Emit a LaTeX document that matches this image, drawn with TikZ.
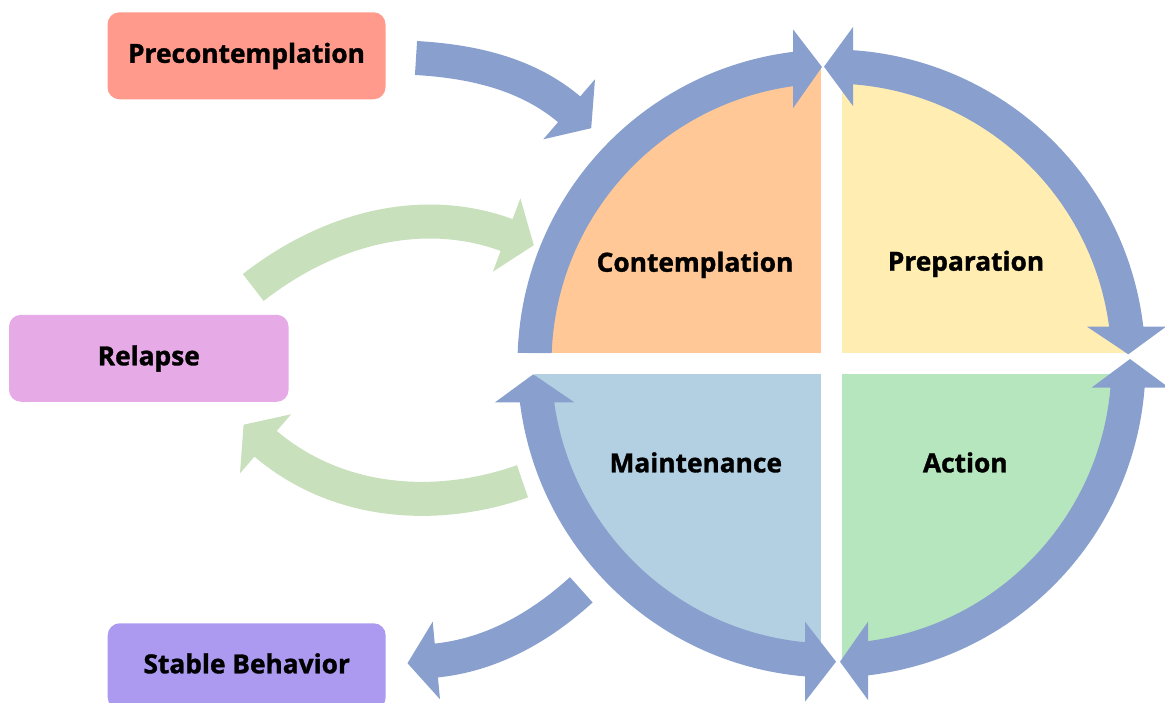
\documentclass[tikz,border=0pt]{standalone}
\usepackage{fontspec}
\setmainfont{Open Sans}[BoldFeatures={FakeBold=1.2}]
\usetikzlibrary{calc}
\definecolor{ringblue}{HTML}{89A0CE}
\definecolor{loopgreen}{HTML}{C8E0BC}
\definecolor{contfill}{HTML}{FFC896}
\definecolor{prepfill}{HTML}{FFEDB2}
\definecolor{maintfill}{HTML}{B2D0E2}
\definecolor{actfill}{HTML}{B5E6BE}
\definecolor{precfill}{HTML}{FF9A8C}
\definecolor{relfill}{HTML}{E6AAE6}
\definecolor{stabfill}{HTML}{AB9AF0}
\begin{document}
\begin{tikzpicture}[x=1pt,y=-1pt,
  stagelabel/.style={font=\fontsize{26.3}{30}\selectfont\bfseries, text=black, inner sep=0pt},
  stagebox/.style={stagelabel, rounded corners=12pt, minimum width=278pt, minimum height=87pt,
                   text height=14pt, text depth=0pt, outer sep=0pt},
  shaft/.style={line width=34pt, line cap=butt},
]
\useasboundingbox (0,0) rectangle (1165,703);
\coordinate (c) at (831.5,363.5);

% four quadrants of the cycle
\fill[contfill]  (c) -- ++(180:297) arc[start angle=180,end angle=270,radius=297] -- cycle;
\fill[prepfill]  (c) -- ++(270:297) arc[start angle=270,end angle=360,radius=297] -- cycle;
\fill[actfill]   (c) -- ++(0:297)   arc[start angle=0,end angle=90,radius=297] -- cycle;
\fill[maintfill] (c) -- ++(90:297)  arc[start angle=90,end angle=180,radius=297] -- cycle;
% white cross between the quadrants
\fill[white] (821,55) rectangle (842,672);
\fill[white] (525,353) rectangle (1140,374);

% ring arrows around the cycle
\fill[ringblue] ($(c)+(181.92:314)$) arc[start angle=181.92,end angle=262.96,radius=314]
  -- (793,29.3) -- (822,67) -- (793,108.3) -- (793,86.2)
  arc[start angle=262.1,end angle=182.15,radius=280] -- cycle;
\fill[ringblue] (853,50.2) arc[start angle=273.93,end angle=353.27,radius=314]
  -- (1166,326.7) -- (1128.3,354.3) -- (1087,326.7) -- (1109.1,326.7)
  arc[start angle=352.45,end angle=274.4,radius=280]
  -- (853,106) -- (824,66.7) -- (853,27) -- cycle;
\fill[ringblue] (1144.6,387.7) arc[start angle=4.42,end angle=83.33,radius=314]
  -- (868,700) -- (840,661.7) -- (868,621.7) -- (868,641.1)
  arc[start angle=82.51,end angle=4.96,radius=280]
  -- (1091.5,387.7) -- (1130,359) -- (1169,387.7) -- cycle;
\fill[ringblue] (805,676.4) arc[start angle=94.84,end angle=172.9,radius=314]
  -- (495,402.3) -- (533.3,374.3) -- (574.3,402.3) -- (554.2,402.3)
  arc[start angle=172.03,end angle=95.43,radius=280]
  -- (805,621.7) -- (836,661.7) -- (805,701.7) -- cycle;

% stage labels inside the cycle
\node[stagelabel, anchor=base] (cont)  at (695,271.7)   {Contemplation};
\node[stagelabel, anchor=base] (prep)  at (966,270.7)   {Preparation};
\node[stagelabel, anchor=base] (maint) at (695.8,472.3) {Maintenance};
\node[stagelabel, anchor=base] (act)   at (965.3,472.3) {Action};

% outer stages
\node[stagebox, fill=precfill] (prec)   at (246.5,55.8)  {Precontemplation};
\node[stagebox, fill=relfill, minimum width=279.6pt] (relapse) at (148.8,358.3) {Relapse};
\node[stagebox, fill=stabfill, minimum height=86pt] (stable) at (246.7,666.3) {Stable Behavior};

% entry arrow from precontemplation
\draw[ringblue, shaft] (416,58) .. controls (471.2,61.2) and (527.3,73.2) .. (570.7,110.6);
\fill[ringblue] (595,79.3) -- (591.2,128.2) -- (543.3,139.3) -- cycle;

% relapse loop
\draw[loopgreen, shaft] (253.25,287.5) .. controls (325.9,230.5) and (420.3,202.6) .. (508.5,235.7);
\fill[loopgreen] (520.4,198.3) -- (533.8,245.2) -- (492.9,271.7) -- cycle;
\draw[loopgreen, shaft] (522.5,481.3) .. controls (434.9,512.1) and (335.7,504.4) .. (264,442.4);
\fill[loopgreen] (291.1,414.3) -- (243.6,424.7) -- (240,473.3) -- cycle;

% exit arrow to stable behavior
\draw[ringblue, shaft] (581.3,589.8) .. controls (540.5,626.9) and (491.3,655.3) .. (434.4,660.7);
\fill[ringblue] (432.7,621.7) -- (407.5,663.2) -- (440,699.3) -- cycle;
\end{tikzpicture}
\end{document}
